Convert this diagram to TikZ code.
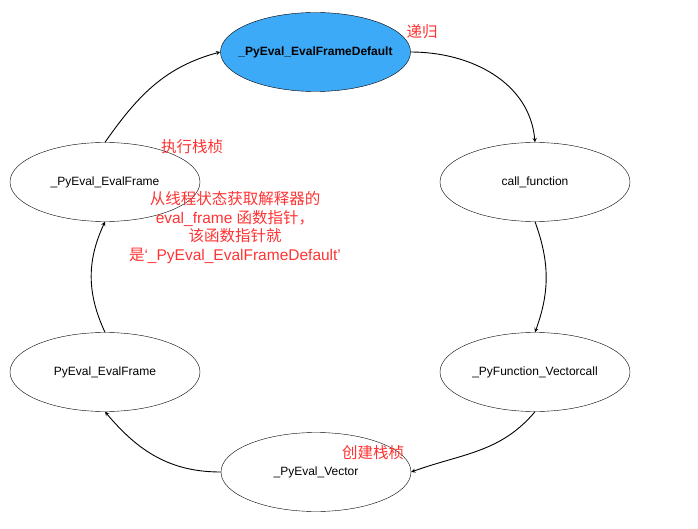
\documentclass[tikz,border=0pt]{standalone}
\usepackage{fontspec}
\setmainfont{Liberation Sans}
\newfontfamily\cjk{Noto Sans CJK SC}
\usetikzlibrary{shapes.geometric}
\definecolor{frameblue}{HTML}{3DAAF8}
\definecolor{notered}{HTML}{FF3333}
\tikzset{
  stage/.style = {thin, draw=black, fill=white, ellipse, minimum width=190pt, minimum height=79pt, inner sep=0pt, font=\fontsize{12}{14}\selectfont},
  note/.style  = {text=notered, inner sep=0pt, align=center, font=\fontsize{15.5}{18.5}\selectfont},
  link/.style  = {draw=black, line width=0.9pt, -stealth},
}
\begin{document}
\begin{tikzpicture}[x=1pt, y=-1pt]
%PICTURE SCOPE
\useasboundingbox (0, 0) rectangle (698, 529);
%STAGES
\node (evaldefault) [stage, fill=frameblue, font=\fontsize{12}{14}\selectfont\bfseries] at (315.5, 52) {\makebox[0pt]{\_PyEval\_EvalFrameDefault}};
\node (callfunc) [stage] at (535, 182) {call\_function};
\node (vectorcall) [stage] at (535, 372) {\_PyFunction\_Vectorcall};
\node (pyvector) [stage] at (316, 472) {\_PyEval\_Vector};
\node (evalframe) [stage] at (105, 372) {PyEval\_EvalFrame};
\node (evalframe2) [stage] at (105, 182) {\_PyEval\_EvalFrame};
%NOTES
\node (recurse) [note] at (422, 32) {\cjk 递归};
\node (runframe) [note] at (192, 147) {\cjk 执行栈桢};
\node (makeframe) [note] at (373, 453) {\cjk 创建栈桢};
\node (fetchptr) [note] at (235, 227.5) {{\cjk 从线程状态获取解释器的}\\ eval\_frame {\cjk 函数指针，}\\ {\cjk 该函数指针就}\\ {\cjk 是}‘\_PyEval\_EvalFrameDefault’};
%%CONNECTIONS
\draw [link] (evalframe2.north) to [out=55, in=195] (evaldefault.west);
\draw [link] (evaldefault.east) to [out=0, in=95] (callfunc.north);
\draw [link] (callfunc.south) to [out=-70, in=70] (vectorcall.north);
\draw [link] (vectorcall.south) to [out=-130, in=20] (pyvector.east);
\draw [link] (pyvector.west) to [out=180, in=-50] (evalframe.south);
\draw [link] (evalframe.north) to [out=115, in=-115] (evalframe2.south);
\end{tikzpicture}
\end{document}
